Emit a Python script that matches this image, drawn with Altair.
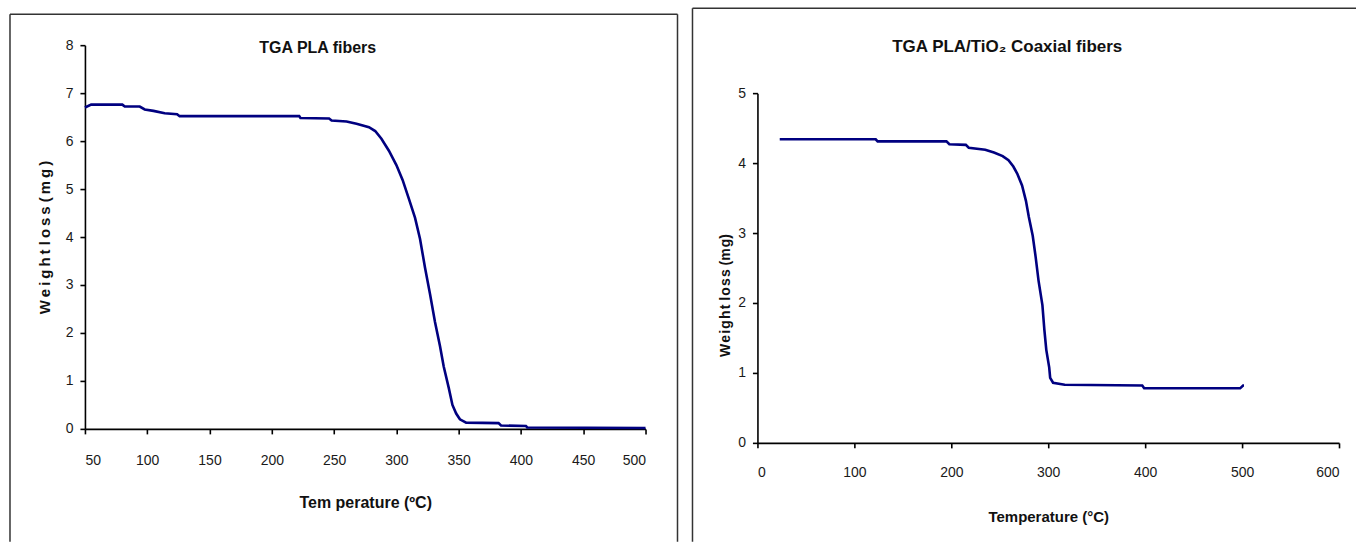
import altair as alt
import pandas as pd

# ---------------- data ----------------
pla_temp = [50, 55, 80, 82, 94, 98, 105, 114, 124, 126, 222, 223, 246, 248, 260, 268,
            278, 283, 288, 294, 300, 305, 310, 315, 319, 323, 327, 331, 335, 338, 342, 345,
            348, 351, 356, 382, 384, 404, 405, 500]
pla_weight = [6.70, 6.76, 6.76, 6.72, 6.72, 6.66, 6.63, 6.58, 6.56, 6.52, 6.52, 6.48, 6.47,
              6.43, 6.41, 6.36, 6.29, 6.21, 6.05, 5.80, 5.50, 5.19, 4.80, 4.40, 3.96, 3.36,
              2.81, 2.23, 1.73, 1.30, 0.86, 0.50, 0.32, 0.20, 0.13, 0.12, 0.07, 0.06, 0.03,
              0.02]

tio2_temp = [23, 122, 124, 195, 198, 215, 218, 235, 244, 253, 259, 264, 268, 273, 277,
             280, 284, 287, 290, 294, 296, 298, 301, 302, 305, 317, 397, 399, 498, 501, 502]
tio2_weight = [4.34, 4.34, 4.31, 4.31, 4.27, 4.26, 4.22, 4.19, 4.15, 4.10, 4.04, 3.95, 3.85,
               3.68, 3.46, 3.23, 2.96, 2.66, 2.32, 1.97, 1.62, 1.33, 1.08, 0.93, 0.86, 0.83,
               0.82, 0.78, 0.78, 0.82, 0.82]

pla_xticks = [50, 100, 150, 200, 250, 300, 350, 400, 450, 500]
pla_yticks = [0, 1, 2, 3, 4, 5, 6, 7, 8]
tio2_xticks = [0, 100, 200, 300, 400, 500, 600]
tio2_yticks = [0, 1, 2, 3, 4, 5]

pla_title = "TGA PLA fibers"
tio2_title = "TGA PLA/TiO\u2082 Coaxial fibers"
pla_xtitle = "Tem perature (\u00baC)"
tio2_xtitle = "Temperature (\u00b0C)"
pla_ytitle = "W\u2009e\u2009i\u2009g\u2009h\u2009t  l\u2009o\u2009s\u2009s  (\u2009m\u2009g\u2009)"
tio2_ytitle = "W\u200ae\u200ai\u200ag\u200ah\u200at l\u200ao\u200as\u200as (m\u200ag)"

FONT = "Liberation Sans Narrow, Arial Narrow, Liberation Sans, sans-serif"
LINE = "#000080"
FRAME = "#333333"

df1 = pd.DataFrame({"T": pla_temp, "W": pla_weight})
df2 = pd.DataFrame({"T": tio2_temp, "W": tio2_weight})
one = pd.DataFrame({"k": [0]})


def axis_x(values, title, w, label_pad, tsize):
    return alt.Axis(values=values, title=title, titleX=w / 2, titleY=74,
                    titleBaseline="middle", titleAlign="center", titleFontSize=tsize,
                    labelPadding=label_pad, format="d")


def axis_y(values, title, tx, ty, tsize):
    return alt.Axis(values=values, title=title, titleX=tx, titleY=ty, titleAngle=-90,
                    titleBaseline="middle", titleAlign="center", titleFontSize=tsize,
                    labelPadding=7, format="d")


def frame(left, top, right, bottom, draw_right=True):
    layers = [
        alt.Chart(one).mark_rule(color=FRAME, strokeWidth=1.5).encode(
            x=alt.value(left), y=alt.value(top), y2=alt.value(bottom)),
        alt.Chart(one).mark_rule(color=FRAME, strokeWidth=1.5).encode(
            x=alt.value(left), x2=alt.value(right), y=alt.value(top)),
    ]
    if draw_right:
        layers.append(alt.Chart(one).mark_rule(color=FRAME, strokeWidth=1.5).encode(
            x=alt.value(right), y=alt.value(top), y2=alt.value(bottom)))
    return layers


def title_mark(text, x, y, size):
    return alt.Chart(one).mark_text(font=FONT, fontSize=size, fontWeight="bold",
                                    align="center", baseline="middle", color="#111").encode(
        x=alt.value(x), y=alt.value(y), text=alt.value(text))


# ---------------- left panel ----------------
W1, H1 = 561, 384
line1 = alt.Chart(df1).mark_line(color=LINE, strokeWidth=2.6).encode(
    x=alt.X("T:Q", scale=alt.Scale(domain=[50, 500], nice=False, zero=False),
            axis=axis_x(pla_xticks, pla_xtitle, W1, 20, 16)),
    y=alt.Y("W:Q", scale=alt.Scale(domain=[0, 8], nice=False),
            axis=axis_y(pla_yticks, pla_ytitle, -40, H1 / 2, 15)),
)
left = alt.layer(line1, title_mark(pla_title, 233, 3, 16),
                 *frame(-75, -31, 593, 497)).properties(width=W1, height=H1)

# ---------------- right panel ----------------
# plot area shares its top with the left one; the y scale occupies its lower part
W2, H2 = 582, 398
Y2_TOP = 48
line2 = alt.Chart(df2).mark_line(color=LINE, strokeWidth=2.6).encode(
    x=alt.X("T:Q", scale=alt.Scale(domain=[0, 600], nice=False, zero=False),
            axis=axis_x(tio2_xticks, tio2_xtitle, W2, 18, 15)),
    y=alt.Y("W:Q", scale=alt.Scale(domain=[0, 5], nice=False, range=[H2, Y2_TOP]),
            axis=axis_y(tio2_yticks, tio2_ytitle, -32, 250, 14)),
)
right = alt.layer(line2, title_mark(tio2_title, 250, 2, 17),
                  *frame(-65, -37, 599, 497, draw_right=False)).properties(width=W2, height=H2)

chart = alt.hconcat(left, right, spacing=13).properties(
    padding={"left": 9, "top": 7, "right": 0, "bottom": 0}, background="white"
).configure_view(stroke=None).configure_axis(
    grid=False, domainColor="#000", domainWidth=1.6, tickColor="#000", tickWidth=1.6,
    tickSize=5, labelFont=FONT, labelFontSize=14, labelColor="#1a1a1a",
    titleFont=FONT, titleFontSize=14, titleFontWeight="bold", titleColor="#111",
)

chart.save("out.html", embed_options={"renderer": "svg", "actions": False})
